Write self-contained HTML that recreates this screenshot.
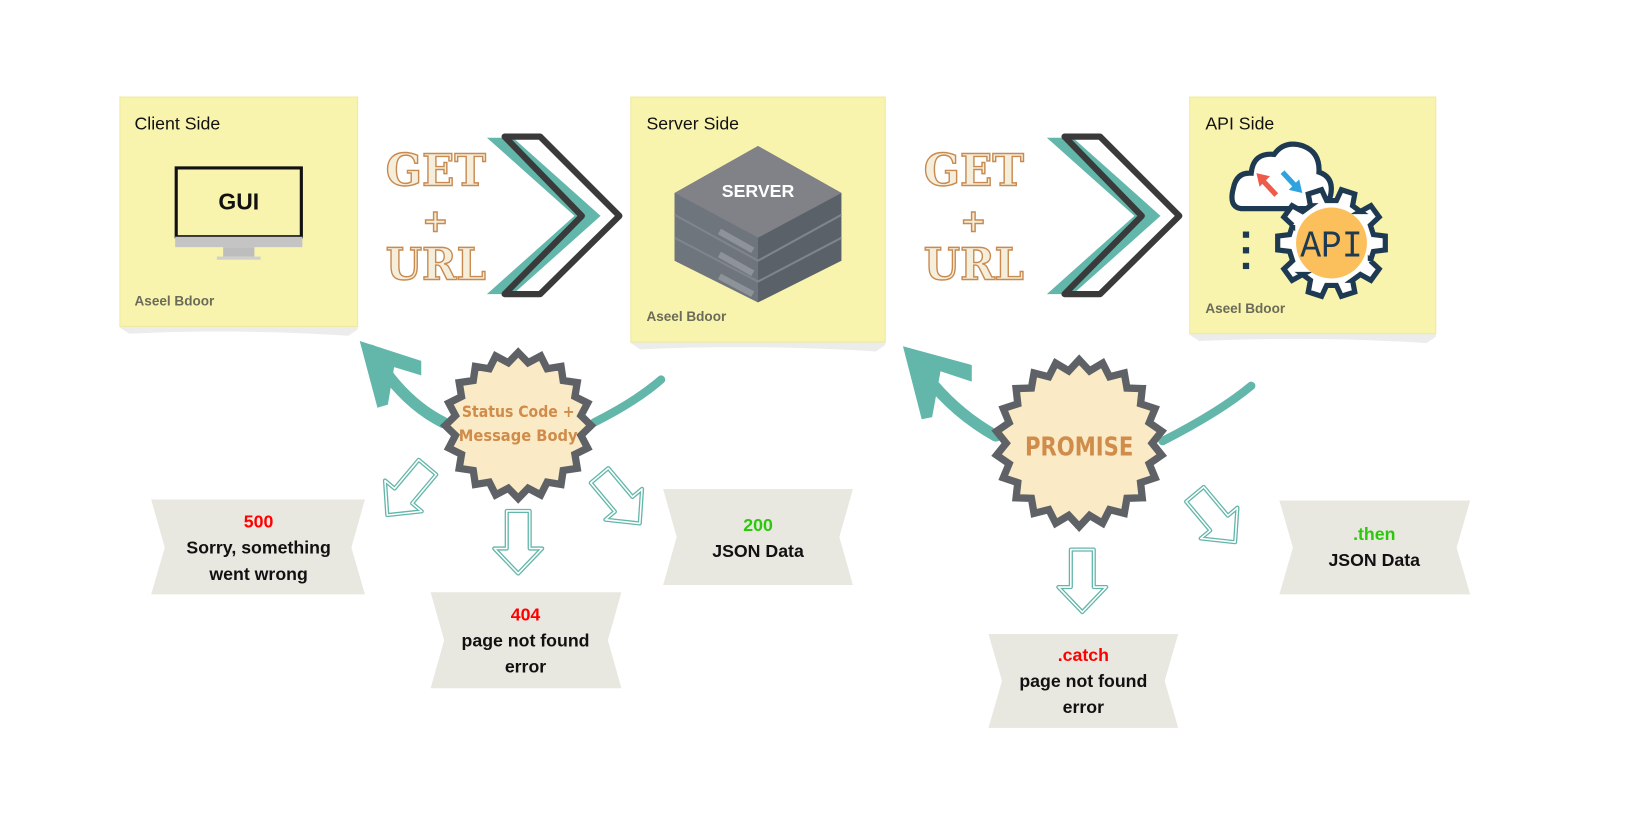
<!DOCTYPE html>
<html><head><meta charset="utf-8"><style>
html,body{margin:0;padding:0;background:#fff;width:1637px;height:828px;overflow:hidden}
svg{display:block}
</style></head><body>
<svg id="s" width="1637" height="828" viewBox="0 0 1570 794" xmlns="http://www.w3.org/2000/svg" style="font-family:'Liberation Sans',sans-serif">
<g>
<path d="M115,312 L343,312 L343,316 L334,322 Q230,315 124,320 L115,314Z" fill="#ececec"/>
<rect x="115" y="93" width="228" height="220" fill="#f8f4ad" stroke="#efe9a0"/>
<path d="M605,327 L849,327 L849,331 L840,337 Q730,330 614,335 L605,329Z" fill="#ececec"/>
<rect x="605" y="93" width="244" height="235" fill="#f8f4ad" stroke="#efe9a0"/>
<path d="M1141,319 L1377,319 L1377,323 L1368,329 Q1260,322 1150,327 L1141,321Z" fill="#ececec"/>
<rect x="1141" y="93" width="236" height="227" fill="#f8f4ad" stroke="#efe9a0"/>
<text x="129" y="124" font-size="17" fill="#111">Client Side</text>
<text x="620" y="124" font-size="17" fill="#111">Server Side</text>
<text x="1156" y="124" font-size="17" fill="#111">API Side</text>
<text x="129" y="293" font-size="13" fill="#6b6b5a" font-weight="bold">Aseel Bdoor</text>
<text x="620" y="308" font-size="13" fill="#6b6b5a" font-weight="bold">Aseel Bdoor</text>
<text x="1156" y="300" font-size="13" fill="#6b6b5a" font-weight="bold">Aseel Bdoor</text>
</g>
<rect x="169" y="161" width="120" height="66" fill="#f8f4ad" stroke="#111" stroke-width="3"/>
<rect x="168" y="227" width="122" height="10" fill="#c4c4c4"/>
<rect x="214" y="237" width="30" height="9" fill="#bdbdbd"/>
<rect x="208" y="246" width="42" height="3" fill="#cfcfcf"/>
<text x="229" y="201" font-size="22" font-weight="bold" text-anchor="middle" fill="#111">GUI</text>
<g>
<polygon points="647,185 727,140 807,185 807,250 727,290 647,250" fill="#5a6169"/>
<polygon points="647,185 727,228 727,290 647,250" fill="#6f757c"/>
<polygon points="647,185 727,140 807,185 727,228" fill="#808287"/>
<path d="M647,206 L727,250 L807,206 M647,228 L727,270 L807,228" stroke="#7e858c" stroke-width="2" fill="none"/>
<path d="M690,222 L722,240 M690,244 L722,262 M690,265 L722,282" stroke="#8d9399" stroke-width="6" fill="none"/>
<text x="727" y="189" font-size="17" font-weight="bold" fill="#fff" text-anchor="middle">SERVER</text>
</g>
<g stroke="#1d3a52" stroke-width="5" fill="#fff">
<path d="M1190,200 Q1178,198 1183,180 Q1186,165 1200,166 Q1202,146 1222,148 Q1232,134 1250,140 Q1266,146 1265,165 Q1280,170 1276,188 Q1272,200 1262,200 Z"/>
<g id="gear"></g>
<circle cx="1277" cy="233" r="34" fill="#fbbf5c" stroke="none"/>
</g>
<text x="1277" y="246" font-size="36" fill="#1d3a52" text-anchor="middle" style="font-family:'Liberation Mono',monospace" textLength="60" lengthAdjust="spacingAndGlyphs">API</text>
<path d="M1224,187 L1210,172" stroke="#ef5b4a" stroke-width="5"/><polygon points="1205,166 1218,169 1208,179" fill="#ef5b4a"/>
<path d="M1230,165 L1243,179" stroke="#2ea3e0" stroke-width="5"/><polygon points="1249,185 1236,182 1246,172" fill="#2ea3e0"/>
<g fill="#1d3a52"><rect x="1192" y="222" width="6" height="6"/><rect x="1192" y="237" width="6" height="6"/><rect x="1192" y="252" width="6" height="6"/></g>
<g style="font-family:'DejaVu Serif','Liberation Serif',serif;font-weight:bold" fill="#f4eedb" stroke="#c98a50" stroke-width="1.4">
<text x="370" y="178" font-size="42" textLength="96" lengthAdjust="spacingAndGlyphs">GET</text>
<text x="405" y="222" font-size="30">+</text>
<text x="370" y="268" font-size="42" textLength="96" lengthAdjust="spacingAndGlyphs">URL</text>
<text x="886" y="178" font-size="42" textLength="96" lengthAdjust="spacingAndGlyphs">GET</text>
<text x="921" y="222" font-size="30">+</text>
<text x="886" y="268" font-size="42" textLength="96" lengthAdjust="spacingAndGlyphs">URL</text>
</g>
<polygon points="467,132 492,132 576,207 492,282 467,282 551,207" fill="#62b6aa"/>
<polygon points="484,131 518,131 594,207 518,282 484,282 558,207" fill="none" stroke="#3a3a3a" stroke-width="6" stroke-linejoin="round"/>
<polygon points="1004,132 1029,132 1113,207 1029,282 1004,282 1088,207" fill="#62b6aa"/>
<polygon points="1021,131 1055,131 1131,207 1055,282 1021,282 1095,207" fill="none" stroke="#3a3a3a" stroke-width="6" stroke-linejoin="round"/>
<g fill="none" stroke="#62b6aa" stroke-linecap="round">
<path d="M425,405 Q385,385 356,336" stroke-width="11"/>
<path d="M570,405 Q610,385 634,364" stroke-width="8"/>
<path d="M955,418 Q905,390 874,340" stroke-width="11"/>
<path d="M1115,423 Q1170,395 1200,370" stroke-width="8"/>
</g>
<g fill="#62b6aa">
<polygon points="345,327 404,346 404,360 378,352 372,388 362,391"/>
<polygon points="866,332 932,350 932,366 902,356 894,400 884,402"/>
</g>
<g id="bursts"></g>
<text x="497" y="400" font-size="15" font-weight="bold" fill="#d08c4b" text-anchor="middle" style="font-family:'DejaVu Sans',sans-serif" textLength="108" lengthAdjust="spacingAndGlyphs">Status Code +</text>
<text x="497" y="423" font-size="15" font-weight="bold" fill="#d08c4b" text-anchor="middle" style="font-family:'DejaVu Sans',sans-serif" textLength="114" lengthAdjust="spacingAndGlyphs">Message Body</text>
<text x="1035" y="437" font-size="25" font-weight="bold" fill="#d08c4b" text-anchor="middle" style="font-family:'DejaVu Sans',sans-serif" textLength="104" lengthAdjust="spacingAndGlyphs">PROMISE</text>
<g id="harrows"></g>
<g fill="#e8e7e0">
<polygon points="145,479 350,479 337,525 350,570 145,570 158,525"/>
<polygon points="413,568 596,568 583,614 596,660 413,660 426,614"/>
<polygon points="636,469 818,469 805,515 818,561 636,561 649,515"/>
<polygon points="948,608 1130,608 1117,653 1130,698 948,698 961,653"/>
<polygon points="1227,480 1410,480 1397,525 1410,570 1227,570 1240,525"/>
</g>
<g font-size="17" font-weight="bold" text-anchor="middle" fill="#111">
<text x="248" y="506" fill="#f00">500</text>
<text x="248" y="531">Sorry, something</text>
<text x="248" y="556">went wrong</text>
<text x="504" y="595" fill="#f00">404</text>
<text x="504" y="620">page not found</text>
<text x="504" y="645">error</text>
<text x="727" y="509" fill="#2dc80e">200</text>
<text x="727" y="534">JSON Data</text>
<text x="1039" y="634" fill="#f00">.catch</text>
<text x="1039" y="659">page not found</text>
<text x="1039" y="684">error</text>
<text x="1318" y="518" fill="#2dc80e">.then</text>
<text x="1318" y="543">JSON Data</text>
</g>
</svg>
<script>
var NS="http://www.w3.org/2000/svg";
function star(cx,cy,R,r,n){var p=[];for(var i=0;i<2*n;i++){var a=Math.PI*i/n-Math.PI/2;var rr=i%2?r:R;p.push((cx+rr*Math.cos(a)).toFixed(1)+","+(cy+rr*Math.sin(a)).toFixed(1));}return p.join(" ");}
var b=document.getElementById("bursts");
[[497,408,70,61,20],[1035,425,80,70,22]].forEach(function(s){var e=document.createElementNS(NS,"polygon");e.setAttribute("points",star(s[0],s[1],s[2],s[3],s[4]));e.setAttribute("fill","#faeac5");e.setAttribute("stroke","#5e6266");e.setAttribute("stroke-width","7");b.appendChild(e);});
var g=document.getElementById("gear");var pts=[];var cx=1277,cy=233,n=10;
for(var i=0;i<n;i++){var a0=2*Math.PI*i/n;[[-0.2,41],[-0.13,52],[0.13,52],[0.2,41],[0.43,41]].forEach(function(q){var a=a0+q[0];pts.push((cx+q[1]*Math.cos(a)).toFixed(1)+","+(cy+q[1]*Math.sin(a)).toFixed(1));});}
var ge=document.createElementNS(NS,"polygon");ge.setAttribute("points",pts.join(" "));g.appendChild(ge);
var h=document.getElementById("harrows");
function arrow(x,y,rot){var d="M-11,0 L11,0 L11,36 L23,36 L0,60 L-23,36 L-11,36 Z";
[["#62b6aa",4],["#fff",1.5]].forEach(function(s){var e=document.createElementNS(NS,"path");e.setAttribute("d",d);e.setAttribute("fill","none");e.setAttribute("stroke",s[0]);e.setAttribute("stroke-width",s[1]);e.setAttribute("stroke-linejoin","round");e.setAttribute("transform","translate("+x+","+y+") rotate("+rot+")");h.appendChild(e);});}
arrow(497,490,0);arrow(410,448,40);arrow(575,456,-40);arrow(1038,527,0);arrow(1146,474,-40);
</script>
</body></html>
